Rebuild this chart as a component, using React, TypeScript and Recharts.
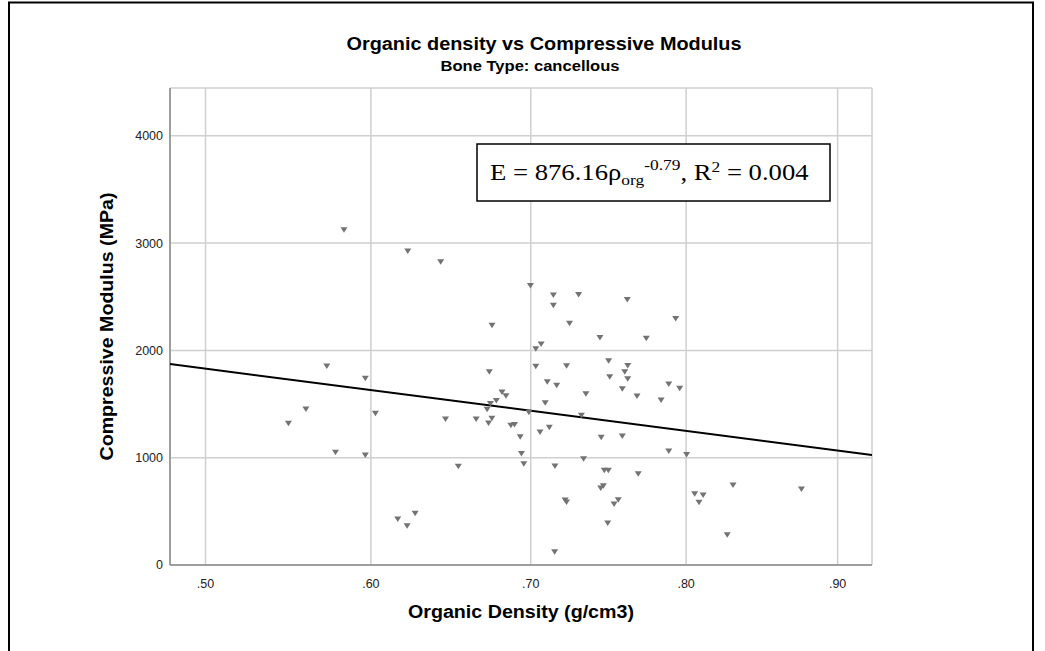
import React from "react";
import { CartesianGrid, ComposedChart, Scatter, XAxis, YAxis } from "recharts";

// organic density (g/cm3) and compressive modulus (MPa), cancellous bone
const density = [
  0.5835, 0.6228, 0.6433, 0.6998, 0.7144, 0.7144, 0.7305, 0.7618, 0.7247, 0.7932,
  0.6755, 0.573, 0.5966, 0.6738, 0.6818, 0.6843, 0.6782, 0.6745, 0.6724, 0.5603,
  0.5497, 0.6028, 0.6463, 0.6655, 0.6754, 0.6733, 0.6874, 0.6897, 0.6933, 0.5783,
  0.5966, 0.6941, 0.6956, 0.6543, 0.6274, 0.6166, 0.6224, 0.6988, 0.7442, 0.7741,
  0.7066, 0.7032, 0.7032, 0.7228, 0.7498, 0.7621, 0.7602, 0.7505, 0.7621, 0.7105,
  0.7165, 0.7887, 0.7958, 0.7586, 0.7352, 0.7681, 0.7837, 0.7092, 0.7323, 0.7118,
  0.7059, 0.745, 0.7586, 0.7887, 0.8003, 0.7337, 0.7154, 0.747, 0.7496, 0.7689,
  0.7464, 0.7447, 0.8307, 0.8759, 0.8056, 0.8111, 0.8084, 0.7219, 0.7228, 0.756,
  0.7533, 0.7492, 0.8269, 0.7152,
];
const modulus = [
  3125, 2926, 2827, 2605, 2516, 2420, 2521, 2474, 2253, 2297,
  2235, 1855, 1741, 1801, 1612, 1578, 1533, 1505, 1452, 1454,
  1322, 1415, 1361, 1361, 1368, 1323, 1302, 1309, 1196, 1051,
  1025, 1039, 943, 921, 482, 429, 366, 1424, 2120, 2113,
  2060, 2015, 1852, 1857, 1903, 1859, 1801, 1754, 1735, 1708,
  1675, 1687, 1647, 1643, 1596, 1575, 1538, 1513, 1396, 1283,
  1240, 1190, 1202, 1062, 1030, 990, 923, 883, 883, 851,
  738, 718, 746, 708, 665, 652, 584, 606, 587, 609,
  569, 391, 282, 124,
];

// fit line end points as drawn across the plot
const fitDensity = [0.479, 0.923];
const fitModulus = [1873, 1025];

const xTicks = [0.5, 0.6, 0.7, 0.8, 0.9];
const yTicks = [0, 1000, 2000, 3000, 4000];
const xDomain = [0.479, 0.923];
const yDomain = [0, 4445];

// the source axis is slightly compressed toward the right
const EXP = 0.8;
const warp = (v: number) => Math.pow(v, EXP);
const unwarp = (v: number) => Math.pow(v, 1 / EXP);

const points = density.map((d, i) => ({ x: warp(d), y: modulus[i] }));
const fitPoints = fitDensity.map((d, i) => ({ x: warp(d), y: fitModulus[i] }));

const SANS = "'Liberation Sans', Arial, sans-serif";
const SERIF = "'Liberation Serif', 'Times New Roman', serif";

function DownTriangle(props: any) {
  const { cx, cy } = props;
  if (cx == null || cy == null) return <g />;
  return (
    <path
      d={`M${cx - 3.5},${cy - 2.5} L${cx + 3.5},${cy - 2.5} L${cx},${cy + 3} Z`}
      fill="#737373"
    />
  );
}

const NoMarker = () => <g />;

export default function App() {
  return (
    <div
      style={{
        position: "absolute",
        left: 0,
        top: 0,
        width: 1045,
        height: 651,
        overflow: "hidden",
        background: "#fff",
        fontFamily: SANS,
      }}
    >
      <div style={{ position: "absolute", left: 0, top: 0 }}>
        <ComposedChart
          width={1045}
          height={651}
          margin={{ top: 88, right: 173, bottom: 56, left: 110 }}
        >
          <CartesianGrid stroke="#cfcfcf" strokeWidth={1.5} />
          <XAxis
            type="number"
            dataKey="x"
            domain={xDomain.map(warp)}
            ticks={xTicks.map(warp)}
            allowDataOverflow
            tickFormatter={(v: number) => "." + Math.round(unwarp(v) * 100)}
            tick={{ fontSize: 12.5, fill: "#222", fontFamily: SANS }}
            tickLine={false}
            tickSize={6}
            tickMargin={8}
            axisLine={{ stroke: "#8a8a8a", strokeWidth: 1.5 }}
            height={30}
          />
          <YAxis
            type="number"
            dataKey="y"
            domain={yDomain}
            ticks={yTicks}
            allowDataOverflow
            tick={{ fontSize: 12.5, fill: "#222", fontFamily: SANS }}
            tickLine={false}
            tickSize={4}
            tickMargin={3}
            axisLine={{ stroke: "#8a8a8a", strokeWidth: 1.5 }}
            width={60}
          />
          <Scatter
            data={fitPoints}
            shape={NoMarker}
            line={{ stroke: "#000", strokeWidth: 2 }}
            isAnimationActive={false}
          />
          <Scatter data={points} shape={DownTriangle} isAnimationActive={false} />
        </ComposedChart>
      </div>
      <svg
        width={1045}
        height={651}
        style={{ position: "absolute", left: 0, top: 0, pointerEvents: "none" }}
      >
        <path d="M9,651 V2.5 H1033 V651" fill="none" stroke="#000" strokeWidth={2} />
        <text
          x={544}
          y={50}
          textAnchor="middle"
          fontFamily={SANS}
          fontWeight="bold"
          fontSize={17.5}
          textLength={395}
          lengthAdjust="spacingAndGlyphs"
          fill="#000"
        >
          Organic density vs Compressive Modulus
        </text>
        <text
          x={530}
          y={71}
          textAnchor="middle"
          fontFamily={SANS}
          fontWeight="bold"
          fontSize={14}
          textLength={179}
          lengthAdjust="spacingAndGlyphs"
          fill="#000"
        >
          Bone Type: cancellous
        </text>
        <text
          x={521}
          y={618}
          textAnchor="middle"
          fontFamily={SANS}
          fontWeight="bold"
          fontSize={17.5}
          textLength={226}
          lengthAdjust="spacingAndGlyphs"
          fill="#000"
        >
          Organic Density (g/cm3)
        </text>
        <g transform="translate(113,326.5) rotate(-90)">
          <text
            x={0}
            y={0}
            textAnchor="middle"
            fontFamily={SANS}
            fontWeight="bold"
            fontSize={17.5}
            textLength={268}
            lengthAdjust="spacingAndGlyphs"
            fill="#000"
          >
            Compressive Modulus (MPa)
          </text>
        </g>
        <rect x={477} y={144} width={353} height={57} fill="#fff" stroke="#000" strokeWidth={1.5} />
        <g transform="translate(490,180) scale(1.16,1)">
          <text x={0} y={0} fontFamily={SERIF} fontSize={23} fill="#000" style={{ whiteSpace: "pre" }}>
            <tspan>E = 876.16ρ</tspan>
            <tspan fontSize={15} dy={5}>org</tspan>
            <tspan fontSize={15} dy={-15}>-0.79</tspan>
            <tspan fontSize={23} dy={10}>, R</tspan>
            <tspan fontSize={15} dy={-8}>2</tspan>
            <tspan fontSize={23} dy={8}> = 0.004</tspan>
          </text>
        </g>
      </svg>
    </div>
  );
}
